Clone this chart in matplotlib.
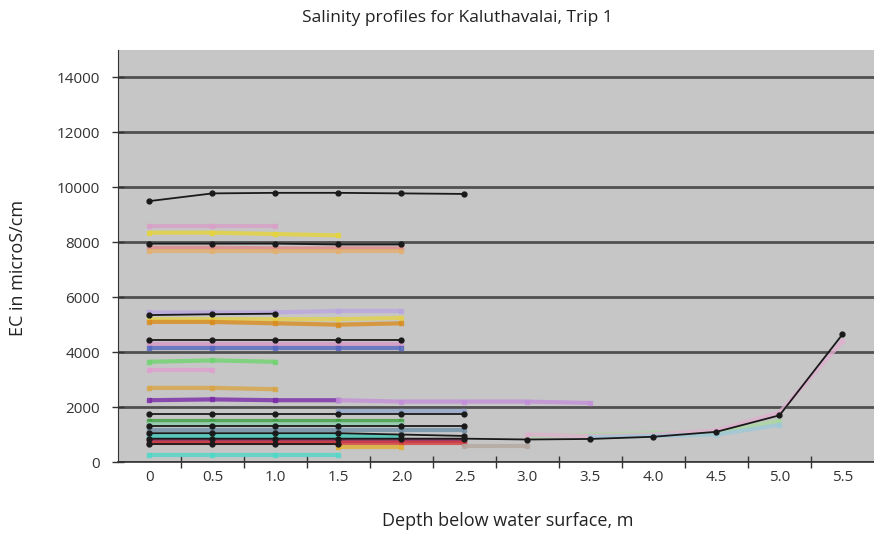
import matplotlib
matplotlib.use("Agg")
import matplotlib.pyplot as plt
import numpy as np

plt.rcParams['font.family'] = ['Open Sans', 'DejaVu Sans']

depth_labels = ['0', '0.5', '1.0', '1.5', '2.0', '2.5', '3.0', '3.5', '4.0', '4.5', '5.0', '5.5']
N = None

# black profiles with markers
blk_9500 = [9500, 9780, 9800, 9800, 9780, 9760]
blk_7950 = [7950, 7950, 7950, 7920, 7920]
blk_5380 = [5350, 5380, 5400]
blk_4450 = [4450, 4450, 4450, 4450, 4450]
blk_1750 = [1750, 1750, 1750, 1750, 1750, 1750]
blk_1300 = [1300, 1300, 1300, 1300, 1300, 1300]
blk_1050 = [1050, 1050, 1050, 1050, 1000, 950]
blk_long = [850, 850, 850, 850, 850, 850, 820, 840, 920, 1100, 1700, 4650]
blk_650 = [650, 650, 650, 650]

# coloured profiles
pink_8600 = [8600, 8600, 8600]
yellow_8350 = [8350, 8350, 8300, 8250]
red_7800 = [7800, 7800, 7780, 7780, 7780]
orange_7700 = [7700, 7700, 7700, 7700, 7700]
violet_5500 = [5450, 5450, 5450, 5500, 5500]
yellow_5200 = [5200, 5200, 5200, 5200, 5250]
orange_5100 = [5100, 5100, 5050, 5000, 5050]
pink_4300 = [4300, 4300, 4300, 4300, 4300]
blue_4150 = [4150, 4150, 4150, 4150, 4150]
green_3650 = [3650, 3700, 3650]
pink_3350 = [3350, 3350]
orange_2700 = [2700, 2700, 2650]
purple_2250 = [2250, 2280, 2250, 2250]
violet_2200 = [N, N, N, 2250, 2200, 2200, 2200, 2150]
steel_1850 = [N, N, N, 1850, 1850, 1850]
green_1500 = [1500, 1500, 1500, 1500, 1500]
teal_1400 = [1400, 1400, 1400, 1400, 1400]
steel_1150 = [1150, 1150, 1150, 1150, 1150, 1150]
cyan_1000 = [950, 950, 950, 950, 950]
maroon_750 = [750, 750, 750, 750, 750, 750]
red_700 = [700, 700, 700, 700, 700, 700]
orange_500 = [N, N, N, 550, 550]
tan_550 = [N, N, N, N, N, 600, 600]
cyan_250 = [250, 250, 250, 250]
lgreen_deep = [N, N, N, N, N, N, 950, 1000, 1050, 1050, 1500, N]
pink_deep = [N, N, N, N, N, N, 1000, 950, 1000, 1150, 1800, 4400]
lblue_deep = [N, N, N, N, N, N, N, 900, 950, 1000, 1350, N]

fig = plt.figure(figsize=(8.74, 5.40), dpi=100)
ax = fig.add_axes([0.135, 0.1444, 0.865, 0.7630])
ax.set_facecolor('#c6c6c6')

def arr(v):
    return np.array([np.nan if x is None else x for x in v], dtype=float)

coloured = [
    (pink_8600, '#d9a0c8'), (yellow_8350, '#e6d43a'), (red_7800, '#e08a8a'),
    (orange_7700, '#e3b070'), (violet_5500, '#b9a6e0'), (yellow_5200, '#e3d14c'),
    (orange_5100, '#d98c1e'), (pink_4300, '#d79ac6'), (blue_4150, '#5468c0'),
    (green_3650, '#6fd46f'), (pink_3350, '#e0a0d0'), (orange_2700, '#d8a545'),
    (purple_2250, '#7a2aa8'), (violet_2200, '#c390d8'), (steel_1850, '#93a7cc'),
    (green_1500, '#3f9f3f'), (teal_1400, '#8fd0b0'), (steel_1150, '#6f8fa8'),
    (cyan_1000, '#40c8b8'), (maroon_750, '#8a1850'), (red_700, '#d84040'),
    (orange_500, '#e0b030'), (tan_550, '#b5a8a0'), (cyan_250, '#50d8c8'),
    (lgreen_deep, '#a8d8a0'), (pink_deep, '#e0b0d0'), (lblue_deep, '#a0c8d8'),
]
for vals, col in coloured:
    y = arr(vals)
    x = np.arange(len(y))
    ax.plot(x, y, color=col, lw=3.0, alpha=0.8, marker='s', ms=3.5,
            mfc=col, mec=col, solid_capstyle='butt', zorder=2)

blacks = [blk_9500, blk_7950, blk_5380, blk_4450, blk_1750, blk_1300,
          blk_1050, blk_long, blk_650]
for vals in blacks:
    y = arr(vals)
    x = np.arange(len(y))
    ax.plot(x, y, color='#1a1a1a', lw=1.3, marker='o', ms=3.5, zorder=3)

ax.set_xlim(-0.5, len(depth_labels) - 0.5)
ax.set_ylim(0, 15000)
ax.set_yticks(np.arange(0, 14001, 2000))
ax.set_yticklabels([str(v) for v in range(0, 14001, 2000)])
ax.set_xticks(np.arange(len(depth_labels)))
ax.set_xticklabels(depth_labels)
ax.set_xticks(np.arange(len(depth_labels) - 1) + 0.5, minor=True)
ax.tick_params(axis='x', which='major', length=0, pad=6, labelsize=11, colors='#333333')
ax.tick_params(axis='x', which='minor', length=8, direction='inout', color='#333333', width=1)
ax.tick_params(axis='y', length=8, direction='inout', pad=9, labelsize=11, colors='#333333', width=1)
ax.yaxis.grid(True, color='#505050', lw=2.0, zorder=1)
ax.set_axisbelow(True)
for s in ['top', 'right']:
    ax.spines[s].set_visible(False)
ax.spines['left'].set_color('#333333')
ax.spines['bottom'].set_color('#333333')
ax.spines['bottom'].set_linewidth(1.2)

ax.set_xlabel('Depth below water surface, m', fontsize=13, color='#222222')
ax.xaxis.set_label_coords((508 - 118) / 756, -(521 - 462) / 412, transform=ax.transAxes)
ax.xaxis.label.set_va('center')
ax.set_ylabel('EC in microS/cm', fontsize=13, color='#222222')
ax.yaxis.set_label_coords((18 - 118) / 756, 1 - (268 - 50) / 412, transform=ax.transAxes)
ax.yaxis.label.set_va('center')
fig.text(457 / 874, 1 - 18 / 540, 'Salinity profiles for Kaluthavalai, Trip 1', ha='center', va='center',
         fontsize=12.5, color='#222222')

fig.savefig('out.png', dpi=100, facecolor='white')
